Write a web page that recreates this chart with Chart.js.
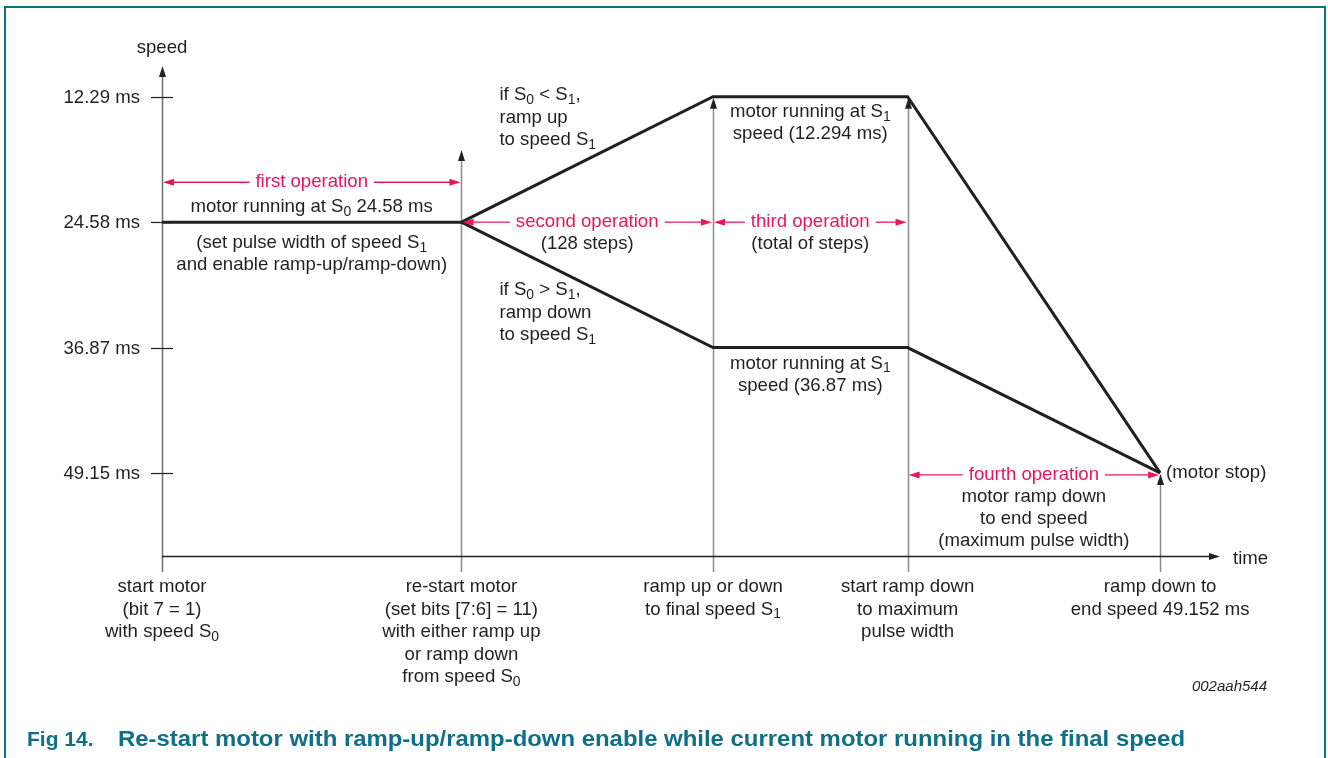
<!DOCTYPE html>
<html>
<head>
<meta charset="utf-8">
<script src="https://cdn.jsdelivr.net/npm/chart.js@4.4.1/dist/chart.umd.min.js"></script>
<style>
  html, body { margin:0; padding:0; background:#fff; }
  #wrap { width:1328px; height:758px; position:relative; }
</style>
</head>
<body>
<div id="wrap"><canvas id="motorChart"></canvas></div>
<script>
  // event instants along the time axis (arbitrary units)
  const eventTimes = [0, 3, 5.52, 7.47, 10];
  // speed expressed as pulse period (ms), axis runs downward
  const speedTicks = [12.294, 24.58, 36.87, 49.152];
  const tickLabels = ['12.29 ms', '24.58 ms', '36.87 ms', '49.15 ms'];
  const rampUpSpeeds = [24.58, 24.58, 12.294, 12.294, 49.152];
  const rampDownSpeeds = [null, 24.58, 36.87, 36.87, 49.152];

  const eventLabels = [
    ['start motor', '(bit 7 = 1)', 'with speed S_0'],
    ['re-start motor', '(set bits [7:6] = 11)', 'with either ramp up', 'or ramp down', 'from speed S_0'],
    ['ramp up or down', 'to final speed S_1'],
    ['start ramp down', 'to maximum', 'pulse width'],
    ['ramp down to', 'end speed 49.152 ms']
  ];
  const operations = ['first operation', 'second operation', 'third operation', 'fourth operation'];
  const operationNotes = [[], ['(128 steps)'], ['(total of steps)'], ['motor ramp down', 'to end speed', '(maximum pulse width)']];

  const FONT = '"Liberation Sans", Arial, Helvetica, sans-serif';
  const FS = 18.6;
  const PINK = '#e8175d';
  const INK = '#231f20';
  const GUIDE = '#8a8a8a';
  const TEAL = '#0f6f87';

  function pts(speeds){
    const out = [];
    speeds.forEach((s, i) => { if (s !== null) out.push({x: eventTimes[i], y: s}); });
    return out;
  }

  // text with "S_0" style subscripts
  function richParts(txt){
    return txt.split(/(_\d)/).filter(p => p.length).map(p => p[0] === '_' ? {t: p.slice(1), sub: true} : {t: p, sub: false});
  }
  function richWidth(ctx, txt, size){
    let w = 0;
    richParts(txt).forEach(p => {
      ctx.font = (p.sub ? size * 0.75 : size) + 'px ' + FONT;
      w += ctx.measureText(p.t).width;
    });
    return w;
  }
  function drawRich(ctx, txt, x, y, align, size, color){
    const w = richWidth(ctx, txt, size);
    let cx = align === 'center' ? x - w / 2 : (align === 'right' ? x - w : x);
    ctx.fillStyle = color || INK;
    ctx.textBaseline = 'middle';
    ctx.textAlign = 'left';
    richParts(txt).forEach(p => {
      const s = p.sub ? size * 0.75 : size;
      ctx.font = s + 'px ' + FONT;
      ctx.fillText(p.t, cx, p.sub ? y + 5 : y);
      cx += ctx.measureText(p.t).width;
    });
  }

  function arrowHead(ctx, x, y, dir, color, len, half){
    len = len || 10; half = half || 3.5;
    ctx.fillStyle = color;
    ctx.beginPath();
    if (dir === 'up'){ ctx.moveTo(x, y); ctx.lineTo(x - half, y + len); ctx.lineTo(x + half, y + len); }
    if (dir === 'left'){ ctx.moveTo(x, y); ctx.lineTo(x + len, y - half); ctx.lineTo(x + len, y + half); }
    if (dir === 'right'){ ctx.moveTo(x, y); ctx.lineTo(x - len, y - half); ctx.lineTo(x - len, y + half); }
    ctx.closePath();
    ctx.fill();
  }

  function line(ctx, x1, y1, x2, y2, color, w){
    ctx.strokeStyle = color; ctx.lineWidth = w;
    ctx.beginPath(); ctx.moveTo(x1, y1); ctx.lineTo(x2, y2); ctx.stroke();
  }

  const diagramPlugin = {
    id: 'diagram',
    beforeDatasetsDraw(chart){
      const ctx = chart.ctx, xs = chart.scales.x, ys = chart.scales.y, area = chart.chartArea;
      ctx.save();
      // frame
      ctx.strokeStyle = TEAL; ctx.lineWidth = 2;
      ctx.beginPath(); ctx.moveTo(5, 800); ctx.lineTo(5, 7); ctx.lineTo(1325, 7); ctx.lineTo(1325, 800); ctx.stroke();

      const guideTops = [area.top, ys.getPixelForValue(17.4), ys.getPixelForValue(12.294), ys.getPixelForValue(12.294), ys.getPixelForValue(49.152)];
      eventTimes.forEach((t, i) => {
        const px = Math.round(xs.getPixelForValue(t)) + 0.5;
        const top = guideTops[i] + 1;
        line(ctx, px, top + 8, px, area.bottom + 16, i === 0 ? '#6e6e6e' : GUIDE, 1.5);
        arrowHead(ctx, px, top, 'up', INK, 11, 3.5);
      });
      // time axis
      line(ctx, area.left, area.bottom + 0.5, area.right - 8, area.bottom + 0.5, INK, 1.3);
      arrowHead(ctx, area.right, area.bottom + 0.5, 'right', INK, 11, 3.5);
      // speed ticks
      speedTicks.forEach((v, i) => {
        const py = Math.round(ys.getPixelForValue(v)) + 0.5;
        line(ctx, area.left - 11, py, area.left + 11, py, INK, 1.2);
        drawRich(ctx, tickLabels[i], area.left - 22, py, 'right', FS);
      });
      ctx.restore();
    },
    afterDatasetsDraw(chart){
      const ctx = chart.ctx, xs = chart.scales.x, ys = chart.scales.y, area = chart.chartArea;
      const X = eventTimes.map(t => xs.getPixelForValue(t));
      ctx.save();
      drawRich(ctx, 'speed', area.left, 48, 'center', FS);
      drawRich(ctx, 'time', area.right + 13, area.bottom + 3, 'left', FS);

      // operation arrows
      const opY = [ys.getPixelForValue(20.67), ys.getPixelForValue(24.58), ys.getPixelForValue(24.58), ys.getPixelForValue(49.152) + 2];
      operations.forEach((op, i) => {
        const x1 = X[i] + 1, x2 = X[i + 1] - 1, y = opY[i];
        const cx = (X[i] + X[i + 1]) / 2;
        const w = richWidth(ctx, op, FS);
        line(ctx, x1 + 8, y, cx - w / 2 - 6, y, PINK, 1.3);
        line(ctx, cx + w / 2 + 6, y, x2 - 8, y, PINK, 1.3);
        arrowHead(ctx, x1, y, 'left', PINK, 11, 3.5);
        arrowHead(ctx, x2, y, 'right', PINK, 11, 3.5);
        drawRich(ctx, op, cx, y, 'center', FS, PINK);
        operationNotes[i].forEach((n, k) => drawRich(ctx, n, cx, y + 22 + k * 22, 'center', FS));
      });

      // first-phase notes
      const c01 = (X[0] + X[1]) / 2;
      const y0 = ys.getPixelForValue(24.58);
      drawRich(ctx, 'motor running at S_0 24.58 ms', c01, y0 - 15, 'center', FS);
      drawRich(ctx, '(set pulse width of speed S_1', c01, y0 + 21, 'center', FS);
      drawRich(ctx, 'and enable ramp-up/ramp-down)', c01, y0 + 43, 'center', FS);

      // ramp branch notes
      const lx = X[1] + 38;
      ['if S_0 < S_1,', 'ramp up', 'to speed S_1'].forEach((t, k) => drawRich(ctx, t, lx, 95 + k * 22.5, 'left', FS));
      ['if S_0 > S_1,', 'ramp down', 'to speed S_1'].forEach((t, k) => drawRich(ctx, t, lx, 290 + k * 22.5, 'left', FS));

      const c23 = (X[2] + X[3]) / 2;
      const yHi = ys.getPixelForValue(12.294), yLo = ys.getPixelForValue(36.87);
      drawRich(ctx, 'motor running at S_1', c23, yHi + 15, 'center', FS);
      drawRich(ctx, 'speed (12.294 ms)', c23, yHi + 37, 'center', FS);
      drawRich(ctx, 'motor running at S_1', c23, yLo + 16, 'center', FS);
      drawRich(ctx, 'speed (36.87 ms)', c23, yLo + 38, 'center', FS);

      drawRich(ctx, '(motor stop)', X[4] + 6, ys.getPixelForValue(49.152), 'left', FS);

      // event captions under the time axis
      eventLabels.forEach((lines, i) => {
        lines.forEach((t, k) => drawRich(ctx, t, X[i], area.bottom + 31 + k * 22.5, 'center', FS));
      });

      // figure id + caption
      ctx.font = 'italic 15px ' + FONT;
      ctx.fillStyle = INK; ctx.textAlign = 'right'; ctx.textBaseline = 'middle';
      ctx.fillText('002aah544', 1267, 687);
      ctx.fillStyle = TEAL; ctx.textAlign = 'left';
      ctx.font = 'bold 21px ' + FONT;
      ctx.fillText('Fig 14.', 27, 740);
      ctx.font = 'bold 22px ' + FONT;
      const cap = 'Re-start motor with ramp-up/ramp-down enable while current motor running in the final speed';
      const cw = ctx.measureText(cap).width;
      ctx.save();
      ctx.translate(118, 740);
      ctx.scale(1067 / cw, 1);
      ctx.fillText(cap, 0, 0);
      ctx.restore();
      ctx.restore();
    }
  };

  new Chart(document.getElementById('motorChart'), {
    type: 'line',
    data: {
      datasets: [
        {label: 'ramp up', data: pts(rampUpSpeeds), borderColor: INK, borderWidth: 3, pointRadius: 0, tension: 0, clip: false, borderJoinStyle: 'miter'},
        {label: 'ramp down', data: pts(rampDownSpeeds), borderColor: INK, borderWidth: 3, pointRadius: 0, tension: 0, clip: false, borderJoinStyle: 'miter'}
      ]
    },
    options: {
      responsive: true,
      maintainAspectRatio: false,
      animation: false,
      events: [],
      layout: {padding: {left: 162, right: 108, top: 65, bottom: 202}},
      plugins: {legend: {display: false}, tooltip: {enabled: false}},
      scales: {
        x: {type: 'linear', display: false, min: 0, max: 10.6},
        y: {type: 'linear', display: false, reverse: true, min: 9.18, max: 57.29}
      }
    },
    plugins: [diagramPlugin]
  });
</script>
</body>
</html>
